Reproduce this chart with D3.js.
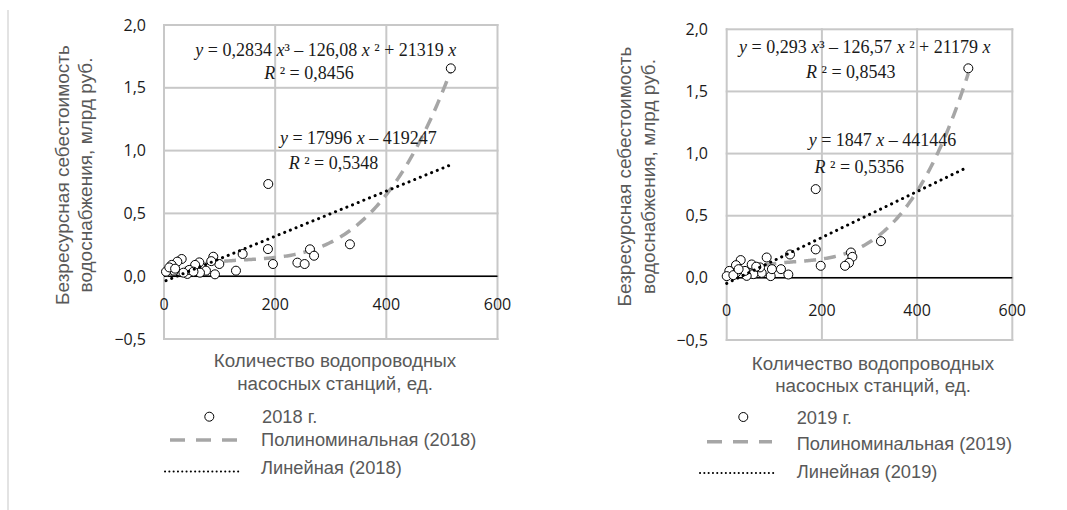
<!DOCTYPE html>
<html><head><meta charset="utf-8">
<script src="https://cdn.jsdelivr.net/npm/d3@7"></script>
<style>
body{margin:0;background:#fff;}
svg{display:block;}
</style></head>
<body>
<svg id="c" width="1067" height="510"></svg>
<script>
// ---------- DATA ----------
const x2018 = [516,187.6,187,196,334.5,262.6,270,240,253,141.5,129.5,88.7,99.5,91.7,75.5,63.5,56,64.7,42,45.5,31.8,24,13.8,18,3.6,35,9.5,53,85,20];
const y2018 = [1.655,0.734,0.216,0.097,0.254,0.214,0.163,0.108,0.097,0.177,0.044,0.155,0.097,0.015,0.044,0.11,0.09,0.028,0.018,0.05,0.137,0.116,0.09,0.044,0.036,0.028,0.07,0.036,0.12,0.06];
const x2019 = [507.6,187,187,197.5,324,261,264,257,248.5,133,129.5,114,84,92.4,73.5,70,52.5,56,42,29.4,19.5,19.5,5.5,0,38.4,14,95,62,25];
const y2019 = [1.686,0.714,0.229,0.097,0.295,0.204,0.169,0.121,0.097,0.188,0.027,0.07,0.164,0.014,0.04,0.084,0.108,0.03,0.016,0.143,0.102,0.04,0.056,0.014,0.056,0.022,0.07,0.09,0.07];
// trendline coefficients as shown in the equations (units of 1e7 of plotted value)
const poly2018 = [0.2834, -126.08, 21319];
const poly2019 = [0.293, -126.57, 21179];
const lin2018 = [17996, -419247];
const lin2019 = [18470, -441446];
const yTicks = [-0.5, 0, 0.5, 1.0, 1.5, 2.0];
const yTickLabels = ["\u22120,5","0,0","0,5","1,0","1,5","2,0"];
const xTicks = [0, 200, 400, 600];
const xTickLabels = ["0","200","400","600"];
const yTitle = ["Безресурсная себестоимость","водоснабжения, млрд руб."];
const xTitle = ["Количество водопроводных","насосных станций, ед."];
const legend2018 = ["2018 г.","Полиноминальная (2018)","Линейная (2018)"];
const legend2019 = ["2019 г.","Полиноминальная (2019)","Линейная (2019)"];
const eq2018 = {
  poly: [["y","i"],[" = 0,2834 ",""],["x","i"],["³ – 126,08 ",""],["x","i"],[" ² + 21319 ",""],["x","i"]],
  r2p: [["R","i"],[" ² = 0,8456",""]],
  lin: [["y","i"],[" = 17996 ",""],["x","i"],[" – 419247",""]],
  r2l: [["R","i"],[" ² = 0,5348",""]]
};
const eq2019 = {
  poly: [["y","i"],[" = 0,293 ",""],["x","i"],["³ – 126,57 ",""],["x","i"],[" ² + 21179 ",""],["x","i"]],
  r2p: [["R","i"],[" ² = 0,8543",""]],
  lin: [["y","i"],[" = 1847 ",""],["x","i"],[" – 441446",""]],
  r2l: [["R","i"],[" ² = 0,5356",""]]
};
const SCALE = 1e-7;

// ---------- LAYOUT ----------
const charts = [
  {xs:x2018, ys:y2018, poly:poly2018, lin:lin2018, eq:eq2018, leg:legend2018,
   px:[164,497.5], py:[339,25], yLabX:146, xLabY:304,
   yTitleX:[62,85], yTitleY:175, xTitleX:335, xTitleY:[360,383],
   eqPos:{poly:[325.8,50], r2p:[309,73], lin:[358.3,138], r2l:[333.5,163]},
   legMarker:[209.3,416.7], legTextX:[262,261,261], legY:[416.5,440,468],
   dash:[170,237,440], dot:[165,240,471.5]},
  {xs:x2019, ys:y2019, poly:poly2019, lin:lin2019, eq:eq2019, leg:legend2019,
   px:[726.7,1012.3], py:[340,29.3], yLabX:708, xLabY:310,
   yTitleX:[624,648], yTitleY:176.5, xTitleX:873, xTitleY:[363,385],
   eqPos:{poly:[864.8,47], r2p:[850.8,72], lin:[882.5,140], r2l:[859.3,167]},
   legMarker:[743.3,417], legTextX:[796.7,796.7,796.7], legY:[418,444,471.5],
   dash:[707,772,441.7], dot:[700,776,473]}
];

const svg = d3.select("#c");
// left page edge line
svg.append("line").attr("x1",8).attr("x2",8).attr("y1",10).attr("y2",510)
  .attr("stroke","#e3e3e3").attr("stroke-width",2);

const tickFont = "'Open Sans', sans-serif";
const titleFont = "'Liberation Sans', Arial, sans-serif";
const eqFont = "'Liberation Serif', 'Times New Roman', serif";

charts.forEach(c => {
  const x = d3.scaleLinear().domain([0,600]).range(c.px);
  const y = d3.scaleLinear().domain([-0.5,2.0]).range(c.py);
  const g = svg.append("g");

  // gridlines as thin rects (plot frame + grid)
  yTicks.forEach(t => {
    g.append("rect").attr("x",x(0)-1).attr("y",y(t)-1)
      .attr("width",x(600)-x(0)+2).attr("height",2).attr("fill","#c8c8c8");
  });
  xTicks.forEach(t => {
    g.append("rect").attr("x",x(t)-1).attr("y",y(2)-1)
      .attr("width",2).attr("height",y(-0.5)-y(2)+2).attr("fill","#c8c8c8");
  });

  // zero axis
  g.append("line").attr("x1",x(0)).attr("x2",x(600)).attr("y1",y(0)).attr("y2",y(0))
    .attr("stroke","#000").attr("stroke-width",1.5);

  // tick labels
  yTicks.forEach((t,i) => {
    g.append("text").attr("x",c.yLabX).attr("y",y(t)).attr("dy","0.35em")
      .attr("text-anchor","end").attr("font-family",tickFont).attr("font-size",16)
      .attr("fill","#1a1a1a").text(yTickLabels[i]);
  });
  xTicks.forEach((t,i) => {
    g.append("text").attr("x",x(t)).attr("y",c.xLabY).attr("dy","0.35em")
      .attr("text-anchor","middle").attr("font-family",tickFont).attr("font-size",16)
      .attr("fill","#1a1a1a").text(xTickLabels[i]);
  });

  // axis titles
  yTitle.forEach((t,i)=>{
    g.append("text").attr("transform",`translate(${c.yTitleX[i]},${c.yTitleY}) rotate(-90)`)
      .attr("text-anchor","middle").attr("dy","0.35em")
      .attr("font-family",titleFont).attr("font-size",19).attr("fill","#595959").text(t);
  });
  xTitle.forEach((t,i)=>{
    g.append("text").attr("x",c.xTitleX).attr("y",c.xTitleY[i]).attr("dy","0.35em")
      .attr("text-anchor","middle").attr("font-family",titleFont).attr("font-size",18.8)
      .attr("fill","#595959").text(t);
  });

  // trendlines
  const xmin = d3.min(c.xs), xmax = d3.max(c.xs);
  const xsLine = d3.range(xmin, xmax+0.01, (xmax-xmin)/200);
  const polyF = v => (c.poly[0]*v*v*v + c.poly[1]*v*v + c.poly[2]*v)*SCALE;
  const linF = v => (c.lin[0]*v + c.lin[1])*SCALE;
  const line = d3.line().x(d=>x(d[0])).y(d=>y(d[1]));
  g.append("path").datum(xsLine.map(v=>[v,polyF(v)])).attr("d",line)
    .attr("fill","none").attr("stroke","#a6a6a6").attr("stroke-width",3.5)
    .attr("stroke-dasharray","12 8");

  // points
  c.xs.forEach((v,i) => {
    g.append("circle").attr("cx",x(v)).attr("cy",y(c.ys[i])).attr("r",4.5)
      .attr("fill","#fff").attr("stroke","#000").attr("stroke-width",1);
  });

  g.append("path").datum([[xmin,linF(xmin)],[xmax,linF(xmax)]]).attr("d",line)
    .attr("fill","none").attr("stroke","#000").attr("stroke-width",3)
    .attr("stroke-linecap","round").attr("stroke-dasharray","0.1 6");

  // equations
  Object.keys(c.eqPos).forEach(k=>{
    const t = g.append("text").attr("x",c.eqPos[k][0]).attr("y",c.eqPos[k][1]).attr("dy","0.33em")
      .attr("text-anchor","middle").attr("font-family",eqFont).attr("font-size",18)
      .attr("fill","#1a1a1a").style("white-space","pre");
    c.eq[k].forEach(p=>{
      t.append("tspan").attr("font-style",p[1]==="i"?"italic":"normal").text(p[0]);
    });
  });

  // legend
  g.append("circle").attr("cx",c.legMarker[0]).attr("cy",c.legMarker[1]).attr("r",4.5)
    .attr("fill","#fff").attr("stroke","#000").attr("stroke-width",1);
  g.append("line").attr("x1",c.dash[0]).attr("x2",c.dash[1]).attr("y1",c.dash[2]).attr("y2",c.dash[2])
    .attr("stroke","#a6a6a6").attr("stroke-width",3.5).attr("stroke-dasharray","15 11");
  g.append("line").attr("x1",c.dot[0]).attr("x2",c.dot[1]).attr("y1",c.dot[2]).attr("y2",c.dot[2])
    .attr("stroke","#000").attr("stroke-width",2).attr("stroke-linecap","round")
    .attr("stroke-dasharray","0.1 4.2");
  c.leg.forEach((t,i)=>{
    g.append("text").attr("x",c.legTextX[i]).attr("y",c.legY[i]).attr("dy","0.35em")
      .attr("font-family",titleFont).attr("font-size",18.3).attr("fill","#595959").text(t);
  });
});
</script>
</body></html>
